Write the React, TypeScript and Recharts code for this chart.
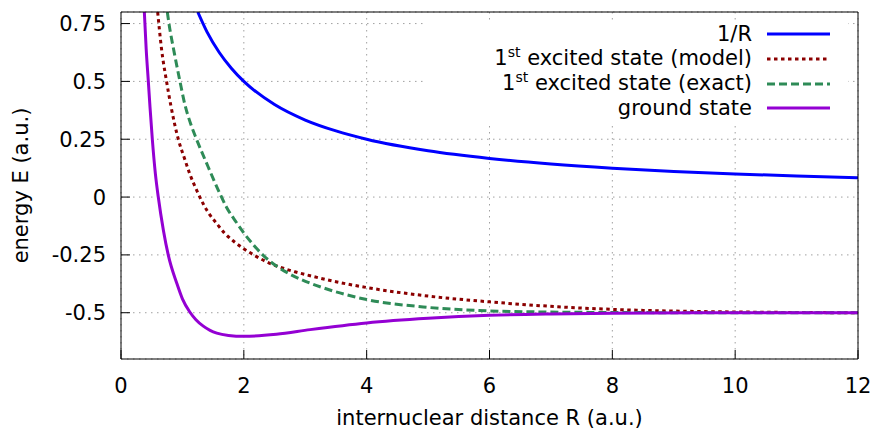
import { CartesianGrid, Label, Legend, Line, LineChart, XAxis, YAxis } from "recharts";

const xTicks = [0, 2, 4, 6, 8, 10, 12];
const yTicks = [-0.5, -0.25, 0, 0.25, 0.5, 0.75];

// 1/R
const inverseR = [1.25, 1.4, 1.6, 1.8, 2, 2.5, 3, 3.5, 4, 5, 6, 7, 8, 9, 10, 11, 12];
const inverseE = [0.8, 0.714, 0.625, 0.556, 0.5, 0.4, 0.333, 0.286, 0.25, 0.2, 0.167, 0.143, 0.125, 0.111, 0.1, 0.091, 0.083];

// 1st excited state (model)
const modelR = [0.597, 0.66, 0.742, 0.81, 0.933, 1.03, 1.12, 1.24, 1.34, 1.45, 1.56, 1.69, 1.83, 1.99, 2.18, 2.37, 2.59, 2.83, 3.08, 3.5, 4, 5, 6, 7.3, 8.4, 9.5, 10.5, 12];
const modelE = [0.8, 0.64, 0.5, 0.398, 0.25, 0.17, 0.1, 0.025, -0.03, -0.078, -0.115, -0.157, -0.19, -0.222, -0.253, -0.28, -0.303, -0.323, -0.34, -0.366, -0.391, -0.428, -0.453, -0.477, -0.489, -0.495, -0.498, -0.5];

// 1st excited state (exact)
const exactR = [0.754, 0.78, 0.87, 0.96, 1.04, 1.13, 1.23, 1.42, 1.61, 1.72, 1.88, 2, 2.15, 2.32, 2.53, 2.75, 3.08, 3.29, 4, 4.92, 6, 7, 8, 10, 12];
const exactE = [0.8, 0.752, 0.62, 0.5, 0.4, 0.32, 0.25, 0.13, 0.015, -0.045, -0.11, -0.155, -0.205, -0.253, -0.298, -0.333, -0.372, -0.392, -0.443, -0.475, -0.492, -0.497, -0.499, -0.5, -0.5];

// ground state
const groundR = [0.38, 0.41, 0.445, 0.472, 0.51, 0.56, 0.607, 0.69, 0.77, 0.91, 1, 1.12, 1.22, 1.34, 1.45, 1.56, 1.75, 2, 2.53, 3.08, 4, 5, 6, 7, 8, 10, 12];
const groundE = [0.8, 0.64, 0.5, 0.39, 0.25, 0.1, 0, -0.143, -0.251, -0.374, -0.44, -0.497, -0.53, -0.558, -0.576, -0.588, -0.598, -0.602, -0.593, -0.573, -0.544, -0.524, -0.511, -0.505, -0.502, -0.5, -0.5];

const zip = (r: number[], e: number[]) => r.map((R, i) => ({ R, E: e[i] }));

const font = "'DejaVu Sans', sans-serif";

const series = [
  { key: "inv", label: "1/R", sup: "", rest: "", data: zip(inverseR, inverseE), color: "#0000ff", dash: undefined },
  { key: "model", label: "1", sup: "st", rest: " excited state (model)", data: zip(modelR, modelE), color: "#8b0000", dash: "3.5 3.5" },
  { key: "exact", label: "1", sup: "st", rest: " excited state (exact)", data: zip(exactR, exactE), color: "#2e8b57", dash: "8 4" },
  { key: "ground", label: "ground state", sup: "", rest: "", data: zip(groundR, groundE), color: "#9400d3", dash: undefined },
];

function LegendBox() {
  return (
    <div style={{ paddingTop: 1, fontFamily: font, fontSize: 21, color: "#000" }}>
      {series.map((s) => (
        <div
          key={s.key}
          style={{ height: 24.67, display: "flex", alignItems: "center", justifyContent: "flex-end" }}
        >
          <span style={{ whiteSpace: "nowrap", lineHeight: "24px" }}>
            {s.label}
            {s.sup && <span style={{ fontSize: 14, position: "relative", top: -8 }}>{s.sup}</span>}
            {s.rest}
          </span>
          <svg width={63} height={6} style={{ marginLeft: 15, marginRight: 18 }}>
            <line x1={0} y1={3} x2={63} y2={3} stroke={s.color} strokeWidth={3} strokeDasharray={s.dash} />
          </svg>
        </div>
      ))}
    </div>
  );
}

export default function App() {
  return (
    <div style={{ position: "absolute", left: 0, top: 0, background: "#fff" }}>
      <LineChart
        width={876}
        height={431}
        margin={{ top: 11, right: 17, bottom: 0, left: 0 }}
        style={{ fontFamily: font }}
      >
        <CartesianGrid stroke="#a0a0a0" strokeDasharray="1.5 4.5" />
        <XAxis
          dataKey="R"
          type="number"
          domain={[0, 12]}
          ticks={xTicks}
          allowDataOverflow
          height={72}
          stroke="#000"
          tickSize={-9}
          tickMargin={28}
          tick={{ fill: "#000", fontSize: 21 }}
        >
          <Label
            content={({ viewBox }: any) => (
              <text
                x={viewBox.x + viewBox.width / 2}
                y={418}
                textAnchor="middle"
                dominantBaseline="central"
                fontSize={21}
                fill="#000"
              >
                internuclear distance R (a.u.)
              </text>
            )}
          />
        </XAxis>
        <XAxis
          xAxisId="top"
          orientation="top"
          type="number"
          domain={[0, 12]}
          ticks={xTicks}
          height={1}
          stroke="#000"
          tickSize={-9}
          tick={false}
        />
        <YAxis
          type="number"
          domain={[-0.7, 0.8]}
          ticks={yTicks}
          allowDataOverflow
          width={121}
          stroke="#000"
          tickSize={-9}
          tickMargin={24}
          tick={{ fill: "#000", fontSize: 21 }}
        >
          <Label
            content={({ viewBox }: any) => {
              const cy = viewBox.y + viewBox.height / 2;
              return (
                <text
                  x={21}
                  y={cy}
                  transform={`rotate(-90 21 ${cy})`}
                  textAnchor="middle"
                  dominantBaseline="central"
                  fontSize={21}
                  fill="#000"
                >
                  energy E (a.u.)
                </text>
              );
            }}
          />
        </YAxis>
        <YAxis
          yAxisId="right"
          orientation="right"
          type="number"
          domain={[-0.7, 0.8]}
          ticks={yTicks}
          width={1}
          stroke="#000"
          tickSize={-9}
          tick={false}
        />
        {series.map((s) => (
          <Line
            key={s.key}
            data={s.data}
            dataKey="E"
            name={s.key}
            type="monotone"
            stroke={s.color}
            strokeWidth={3}
            strokeDasharray={s.dash}
            dot={false}
            activeDot={false}
            isAnimationActive={false}
          />
        ))}
        <Legend
          layout="horizontal"
          align="center"
          verticalAlign="middle"
          content={() => <LegendBox />}
          wrapperStyle={{ left: 426, top: 21, width: 422, height: 101, background: "#fff" }}
        />
      </LineChart>
    </div>
  );
}
